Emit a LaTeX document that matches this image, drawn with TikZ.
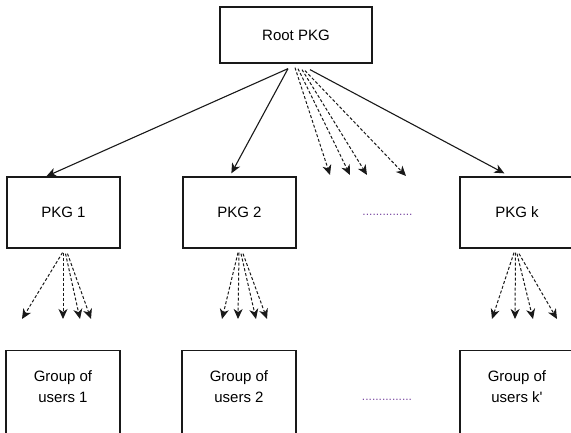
\documentclass[tikz,border=0pt]{standalone}
\usepackage{fontspec}
\setmainfont{Liberation Sans}[Ligatures=TeXOff]
\usetikzlibrary{arrows.meta,calc}
\definecolor{dotcol}{RGB}{120,70,160}
\definecolor{linecol}{RGB}{25,25,25}
\begin{document}
\begin{tikzpicture}[x=1pt,y=-1pt,
  box/.style={draw=linecol,line width=1.3pt,minimum width=#1,minimum height=71pt,inner sep=0pt,
    font=\fontsize{15}{17}\selectfont},
  box/.default=113pt,
  grpbox/.style={draw=linecol,line width=1.3pt,minimum width=114pt,minimum height=100pt,anchor=north,inner sep=0pt},
  grptext/.style={align=center,font=\fontsize{15}{21}\selectfont,inner sep=0pt},
  dots/.style={text=dotcol,font=\fontsize{12}{14}\selectfont,anchor=base,inner sep=0pt},
  solidarrow/.style={draw=linecol,line width=1.1pt,-{Stealth[length=10pt,width=9pt,inset=3pt]}},
  dasharrow/.style={draw=linecol,line width=1pt,dash pattern=on 3pt off 2pt,-{Stealth[length=10pt,width=9pt,inset=3pt]}}
]
\useasboundingbox (0,0) rectangle (571,433);
\begin{scope}
\clip (0,0) rectangle (571,433);
% nodes
\node[box=152pt,minimum height=56pt] (root) at (296,35) {Root PKG};
\node[box] (p1) at (63.5,212.5) {PKG 1};
\node[box] (p2) at (239.5,212.5) {PKG 2};
\node[box=114pt] (pk) at (517,212.5) {PKG k};
\node[dots] (d1) at (387.5,216) {...............};

\node[grpbox] (g1) at (63,350) {};
\node[grpbox] (g2) at (239,350) {};
\node[grpbox] (gk) at (517,350) {};
\node[grptext] (g1t) at ($(g1.north)+(0,37)$) {Group of\\users 1};
\node[grptext] (g2t) at ($(g2.north)+(0,37)$) {Group of\\users 2};
\node[grptext] (gkt) at ($(gk.north)+(0,37)$) {Group of\\users k'};
\node[dots] (d2) at (387,400) {...............};

% root arrows
\coordinate (rs1) at ($(root.south)+(-8,5)$);
\coordinate (rs2) at ($(root.south)+(14,6)$);
\draw[solidarrow] (rs1) -- ($(p1.north west)+(40,0)$);
\draw[solidarrow] (rs1) -- ($(p2.north west)+(49,-3)$);
\draw[solidarrow] (rs2) -- ($(pk.north west)+(45,-3)$);
\coordinate (re1) at (330,175);
\coordinate (re2) at (350,175);
\coordinate (re3) at (367,175);
\coordinate (re4) at (406,176);
\draw[dasharrow] ($(root.south)+(-1,4)$) -- (re1);
\draw[dasharrow] ($(root.south)+(2,5)$) -- (re2);
\draw[dasharrow] ($(root.south)+(6,6)$) -- (re3);
\draw[dasharrow] ($(root.south)+(9,7)$) -- (re4);

% PKG 1 arrows
\coordinate (a11) at (22,319);
\coordinate (a12) at (63,319);
\coordinate (a13) at (80,319);
\coordinate (a14) at (91,319);
\draw[dasharrow] ($(p1.south)+(-1,4)$) -- (a11);
\draw[dasharrow] ($(p1.south)+(-0.5,4)$) -- (a12);
\draw[dasharrow] ($(p1.south)+(2,5)$) -- (a13);
\draw[dasharrow] ($(p1.south)+(4,5)$) -- (a14);

% PKG 2 arrows
\coordinate (a21) at (222,319);
\coordinate (a22) at (238,319);
\coordinate (a23) at (256,319);
\coordinate (a24) at (267,319);
\draw[dasharrow] ($(p2.south)+(-1.5,4)$) -- (a21);
\draw[dasharrow] ($(p2.south)+(-0.5,4)$) -- (a22);
\draw[dasharrow] ($(p2.south)+(1.5,5)$) -- (a23);
\draw[dasharrow] ($(p2.south)+(3.5,5)$) -- (a24);

% PKG k arrows
\coordinate (ak1) at (492,319);
\coordinate (ak2) at (515,319);
\coordinate (ak3) at (533,319);
\coordinate (ak4) at (557,319);
\draw[dasharrow] ($(pk.south)+(-3,4)$) -- (ak1);
\draw[dasharrow] ($(pk.south)+(-1.5,4)$) -- (ak2);
\draw[dasharrow] ($(pk.south)+(0,5)$) -- (ak3);
\draw[dasharrow] ($(pk.south)+(2,5)$) -- (ak4);
\end{scope}
\end{tikzpicture}
\end{document}
